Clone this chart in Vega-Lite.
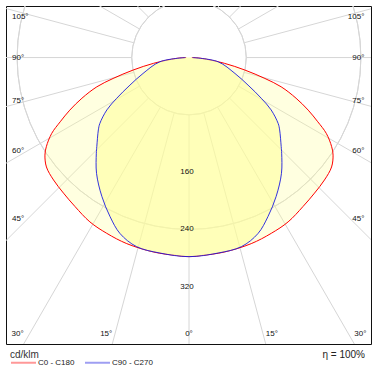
{
  "$schema": "https://vega.github.io/schema/vega-lite/v6.json",
  "autosize": "none",
  "padding": {"left": 6, "top": 6, "right": 9, "bottom": 40},
  "width": 365,
  "height": 338,
  "background": "#ffffff",
  "config": {
    "font": "Liberation Sans",
    "view": {"stroke": "#111111", "strokeWidth": 1},
    "legend": {
      "orient": "bottom",
      "direction": "horizontal",
      "symbolType": "stroke",
      "symbolSize": 625,
      "symbolStrokeWidth": 2,
      "symbolOpacity": 0.4,
      "labelFontSize": 8,
      "labelColor": "#222222",
      "titleFontSize": 10,
      "titleFontWeight": "normal",
      "titleColor": "#333333",
      "titlePadding": -11,
      "offset": 2,
      "padding": 4,
      "columnPadding": 6,
      "labelOffset": 1
    }
  },
  "title": {"text": "η = 100%", "orient": "bottom", "anchor": "end", "fontSize": 10, "fontWeight": "normal", "color": "#222222", "offset": -21, "dx": -6},
  "datasets": {
    "curves": [
      {"c": "C0 - C180", "a": -90, "i": 4},
      {"c": "C0 - C180", "a": -86.3, "i": 17},
      {"c": "C0 - C180", "a": -80.8, "i": 50},
      {"c": "C0 - C180", "a": -77.4, "i": 80},
      {"c": "C0 - C180", "a": -74.6, "i": 110},
      {"c": "C0 - C180", "a": -72.4, "i": 135},
      {"c": "C0 - C180", "a": -69.2, "i": 160},
      {"c": "C0 - C180", "a": -66.2, "i": 182},
      {"c": "C0 - C180", "a": -63.5, "i": 201},
      {"c": "C0 - C180", "a": -61.1, "i": 219},
      {"c": "C0 - C180", "a": -58, "i": 235},
      {"c": "C0 - C180", "a": -55.9, "i": 243},
      {"c": "C0 - C180", "a": -52.5, "i": 251},
      {"c": "C0 - C180", "a": -47.9, "i": 255},
      {"c": "C0 - C180", "a": -42.8, "i": 258},
      {"c": "C0 - C180", "a": -37.4, "i": 262},
      {"c": "C0 - C180", "a": -31.1, "i": 268},
      {"c": "C0 - C180", "a": -25.1, "i": 271},
      {"c": "C0 - C180", "a": -18.5, "i": 274},
      {"c": "C0 - C180", "a": -10.4, "i": 276},
      {"c": "C0 - C180", "a": -3.6, "i": 277},
      {"c": "C0 - C180", "a": 0, "i": 278},
      {"c": "C0 - C180", "a": 3.6, "i": 277},
      {"c": "C0 - C180", "a": 10.4, "i": 276},
      {"c": "C0 - C180", "a": 18.5, "i": 274},
      {"c": "C0 - C180", "a": 25.1, "i": 271},
      {"c": "C0 - C180", "a": 31.1, "i": 268},
      {"c": "C0 - C180", "a": 37.4, "i": 262},
      {"c": "C0 - C180", "a": 42.8, "i": 258},
      {"c": "C0 - C180", "a": 47.9, "i": 255},
      {"c": "C0 - C180", "a": 52.5, "i": 251},
      {"c": "C0 - C180", "a": 55.9, "i": 243},
      {"c": "C0 - C180", "a": 58, "i": 235},
      {"c": "C0 - C180", "a": 61.1, "i": 219},
      {"c": "C0 - C180", "a": 63.5, "i": 201},
      {"c": "C0 - C180", "a": 66.2, "i": 182},
      {"c": "C0 - C180", "a": 69.2, "i": 160},
      {"c": "C0 - C180", "a": 72.4, "i": 135},
      {"c": "C0 - C180", "a": 74.6, "i": 110},
      {"c": "C0 - C180", "a": 77.4, "i": 80},
      {"c": "C0 - C180", "a": 80.8, "i": 50},
      {"c": "C0 - C180", "a": 86.3, "i": 17},
      {"c": "C0 - C180", "a": 90, "i": 4},
      {"c": "C90 - C270", "a": -90, "i": 5},
      {"c": "C90 - C270", "a": -81.8, "i": 41},
      {"c": "C90 - C270", "a": -70.9, "i": 68},
      {"c": "C90 - C270", "a": -65, "i": 91},
      {"c": "C90 - C270", "a": -60.6, "i": 116},
      {"c": "C90 - C270", "a": -57.5, "i": 136},
      {"c": "C90 - C270", "a": -53.5, "i": 155},
      {"c": "C90 - C270", "a": -51.4, "i": 162},
      {"c": "C90 - C270", "a": -46, "i": 179},
      {"c": "C90 - C270", "a": -44.1, "i": 186},
      {"c": "C90 - C270", "a": -38.6, "i": 207},
      {"c": "C90 - C270", "a": -32.1, "i": 229},
      {"c": "C90 - C270", "a": -26.4, "i": 248},
      {"c": "C90 - C270", "a": -21.4, "i": 264},
      {"c": "C90 - C270", "a": -15.5, "i": 274},
      {"c": "C90 - C270", "a": -8.4, "i": 276},
      {"c": "C90 - C270", "a": 0, "i": 278},
      {"c": "C90 - C270", "a": 8.4, "i": 276},
      {"c": "C90 - C270", "a": 15.5, "i": 274},
      {"c": "C90 - C270", "a": 21.4, "i": 264},
      {"c": "C90 - C270", "a": 26.4, "i": 248},
      {"c": "C90 - C270", "a": 32.1, "i": 229},
      {"c": "C90 - C270", "a": 38.6, "i": 207},
      {"c": "C90 - C270", "a": 44.1, "i": 186},
      {"c": "C90 - C270", "a": 46, "i": 179},
      {"c": "C90 - C270", "a": 51.4, "i": 162},
      {"c": "C90 - C270", "a": 53.5, "i": 155},
      {"c": "C90 - C270", "a": 57.5, "i": 136},
      {"c": "C90 - C270", "a": 60.6, "i": 116},
      {"c": "C90 - C270", "a": 65, "i": 91},
      {"c": "C90 - C270", "a": 70.9, "i": 68},
      {"c": "C90 - C270", "a": 81.8, "i": 41},
      {"c": "C90 - C270", "a": 90, "i": 5}
    ],
    "radials": [
      {"a": -165}, {"a": -150}, {"a": -135}, {"a": -120}, {"a": -105}, {"a": -90},
      {"a": -75}, {"a": -60}, {"a": -45}, {"a": -30}, {"a": -15}, {"a": 0},
      {"a": 15}, {"a": 30}, {"a": 45}, {"a": 60}, {"a": 75}, {"a": 90},
      {"a": 105}, {"a": 120}, {"a": 135}, {"a": 150}, {"a": 165}, {"a": 180}
    ],
    "circles": [{"r": 80}, {"r": 160}, {"r": 240}, {"r": 320}, {"r": 400}, {"r": 480}],
    "rlabels": [{"v": 160, "t": "160"}, {"v": 240, "t": "240"}, {"v": 320, "t": "320"}],
    "alabels": [
      {"t": "105°", "a": -105}, {"t": "90°", "a": -90}, {"t": "75°", "a": -75},
      {"t": "60°", "a": -60}, {"t": "45°", "a": -45}, {"t": "30°", "a": -30},
      {"t": "15°", "a": -15}, {"t": "0°", "a": 0}, {"t": "15°", "a": 15},
      {"t": "30°", "a": 30}, {"t": "45°", "a": 45}, {"t": "60°", "a": 60},
      {"t": "75°", "a": 75}, {"t": "90°", "a": 90}, {"t": "105°", "a": 105}
    ]
  },
  "layer": [
    {
      "data": {"name": "circles"},
      "mark": {"type": "arc", "theta": 0, "theta2": 6.2832, "filled": false, "stroke": "#d6d6d6", "strokeWidth": 1, "clip": true},
      "encoding": {
        "x": {"datum": 0, "type": "quantitative", "scale": {"domain": [-255.6, 254.2], "nice": false, "zero": false}, "axis": null},
        "y": {"datum": 0, "type": "quantitative", "scale": {"domain": [-400, 72], "nice": false, "zero": false}, "axis": null},
        "radius": {"field": "r", "type": "quantitative", "scale": {"type": "linear", "domain": [0, 400], "range": [0, 286.4], "zero": true, "nice": false}, "legend": null}
      }
    },
    {
      "data": {"name": "radials"},
      "transform": [
        {"calculate": "80*sin(datum.a*PI/180)", "as": "x1"},
        {"calculate": "-80*cos(datum.a*PI/180)", "as": "y1"},
        {"calculate": "700*sin(datum.a*PI/180)", "as": "x2"},
        {"calculate": "-700*cos(datum.a*PI/180)", "as": "y2"}
      ],
      "mark": {"type": "rule", "stroke": "#d6d6d6", "strokeWidth": 1, "clip": true},
      "encoding": {
        "x": {"field": "x1", "type": "quantitative", "scale": {"domain": [-255.6, 254.2], "nice": false, "zero": false}, "axis": null},
        "y": {"field": "y1", "type": "quantitative", "scale": {"domain": [-400, 72], "nice": false, "zero": false}, "axis": null},
        "x2": {"field": "x2"},
        "y2": {"field": "y2"}
      }
    },
    {
      "data": {"name": "curves"},
      "transform": [
        {"filter": "datum.c == 'C0 - C180'"},
        {"calculate": "datum.i*sin(datum.a*PI/180)", "as": "x"},
        {"calculate": "-datum.i*cos(datum.a*PI/180)", "as": "y"}
      ],
      "mark": {"type": "line", "interpolate": "catmull-rom", "fill": "#ffff99", "fillOpacity": 0.3, "strokeWidth": 1, "clip": true},
      "encoding": {
        "x": {"field": "x", "type": "quantitative", "scale": {"domain": [-255.6, 254.2], "nice": false, "zero": false}, "axis": null},
        "y": {"field": "y", "type": "quantitative", "scale": {"domain": [-400, 72], "nice": false, "zero": false}, "axis": null},
        "order": {"field": "a", "type": "quantitative"},
        "stroke": {"field": "c", "type": "nominal", "scale": {"domain": ["C0 - C180", "C90 - C270"], "range": ["#ff0000", "#1010e0"]}, "legend": {"title": "cd/klm"}}
      }
    },
    {
      "data": {"name": "curves"},
      "transform": [
        {"filter": "datum.c == 'C90 - C270'"},
        {"calculate": "datum.i*sin(datum.a*PI/180)", "as": "x"},
        {"calculate": "-datum.i*cos(datum.a*PI/180)", "as": "y"}
      ],
      "mark": {"type": "line", "interpolate": "catmull-rom", "fill": "#ffff99", "fillOpacity": 0.55, "strokeWidth": 1, "strokeOpacity": 0.85, "clip": true},
      "encoding": {
        "x": {"field": "x", "type": "quantitative", "scale": {"domain": [-255.6, 254.2], "nice": false, "zero": false}, "axis": null},
        "y": {"field": "y", "type": "quantitative", "scale": {"domain": [-400, 72], "nice": false, "zero": false}, "axis": null},
        "order": {"field": "a", "type": "quantitative"},
        "stroke": {"field": "c", "type": "nominal", "scale": {"domain": ["C0 - C180", "C90 - C270"], "range": ["#ff0000", "#1010e0"]}, "legend": {"title": "cd/klm"}}
      }
    },
    {
      "data": {"name": "rlabels"},
      "transform": [{"calculate": "-datum.v", "as": "ly"}],
      "mark": {"type": "text", "fontSize": 8, "color": "#111111", "align": "center", "baseline": "middle", "dx": -2},
      "encoding": {
        "x": {"datum": 0, "type": "quantitative", "scale": {"domain": [-255.6, 254.2], "nice": false, "zero": false}, "axis": null},
        "y": {"field": "ly", "type": "quantitative", "scale": {"domain": [-400, 72], "nice": false, "zero": false}, "axis": null},
        "text": {"field": "t"}
      }
    },
    {
      "data": {"name": "alabels"},
      "transform": [
        {"calculate": "abs(datum.a) >= 45 ? (datum.a < 0 ? -247.2 : 245) : (datum.a < 0 ? -1 : 1) * min(400*tan(abs(datum.a)*PI/180), 231)", "as": "lx"},
        {"calculate": "abs(datum.a) >= 45 ? min(56, -225/tan(abs(datum.a)*PI/180)) : -386", "as": "ly"},
        {"filter": "datum.a <= -45 || (datum.a > 0 && datum.a <= 30)"}
      ],
      "mark": {"type": "text", "fontSize": 8, "color": "#111111", "align": "left", "baseline": "middle"},
      "encoding": {
        "x": {"field": "lx", "type": "quantitative", "scale": {"domain": [-255.6, 254.2], "nice": false, "zero": false}, "axis": null},
        "y": {"field": "ly", "type": "quantitative", "scale": {"domain": [-400, 72], "nice": false, "zero": false}, "axis": null},
        "text": {"field": "t"}
      }
    },
    {
      "data": {"name": "alabels"},
      "transform": [
        {"calculate": "abs(datum.a) >= 45 ? (datum.a < 0 ? -247.2 : 245) : (datum.a < 0 ? -1 : 1) * min(400*tan(abs(datum.a)*PI/180), 231)", "as": "lx"},
        {"calculate": "abs(datum.a) >= 45 ? min(56, -225/tan(abs(datum.a)*PI/180)) : -386", "as": "ly"},
        {"filter": "datum.a >= 45 || (datum.a < 0 && datum.a >= -30)"}
      ],
      "mark": {"type": "text", "fontSize": 8, "color": "#111111", "align": "right", "baseline": "middle"},
      "encoding": {
        "x": {"field": "lx", "type": "quantitative", "scale": {"domain": [-255.6, 254.2], "nice": false, "zero": false}, "axis": null},
        "y": {"field": "ly", "type": "quantitative", "scale": {"domain": [-400, 72], "nice": false, "zero": false}, "axis": null},
        "text": {"field": "t"}
      }
    },
    {
      "data": {"name": "alabels"},
      "transform": [
        {"filter": "datum.a == 0"},
        {"calculate": "-386", "as": "ly"}
      ],
      "mark": {"type": "text", "fontSize": 8, "color": "#111111", "align": "center", "baseline": "middle"},
      "encoding": {
        "x": {"field": "a", "type": "quantitative", "scale": {"domain": [-255.6, 254.2], "nice": false, "zero": false}, "axis": null},
        "y": {"field": "ly", "type": "quantitative", "scale": {"domain": [-400, 72], "nice": false, "zero": false}, "axis": null},
        "text": {"field": "t"}
      }
    }
  ]
}
